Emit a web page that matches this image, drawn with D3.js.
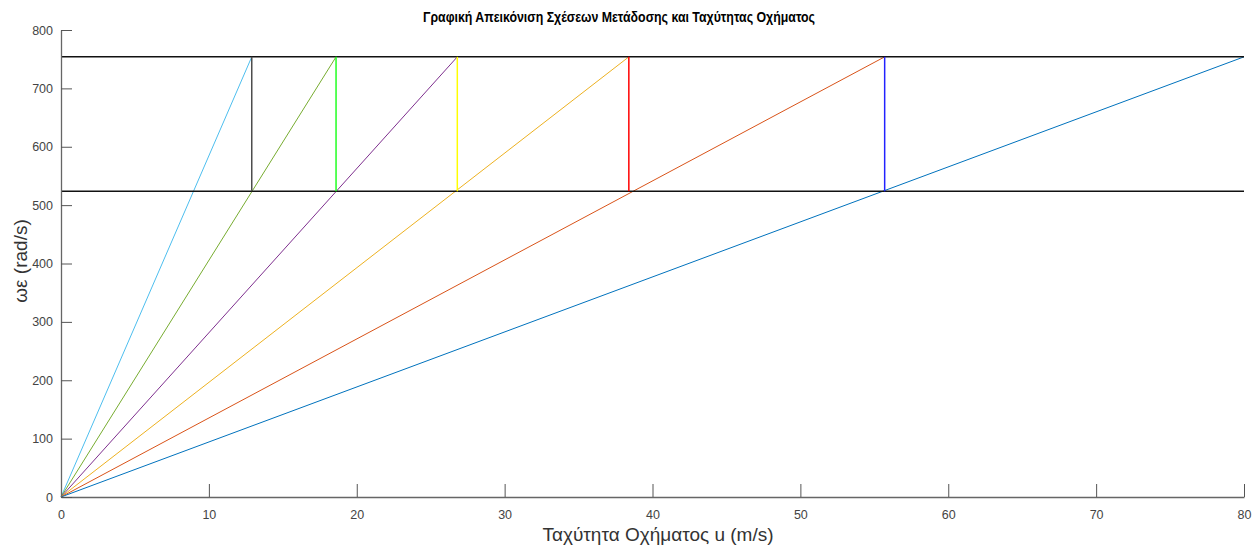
<!DOCTYPE html>
<html>
<head>
<meta charset="utf-8">
<script src="https://cdn.jsdelivr.net/npm/d3@7"></script>
<style>
  body { margin: 0; background: #fff; }
  svg { font-family: "Liberation Sans", Arial, sans-serif; }
</style>
</head>
<body>
<svg id="chart" width="1257" height="554"></svg>
<script>
// gear lines: speed (m/s) at which each gear reaches max engine speed
const gearTopSpeeds = [12.9, 18.6, 26.8, 38.4, 55.7, 80];
const gearColors = ['#4DBEEE', '#77AC30', '#7E2F8E', '#EDB120', '#D95319', '#0072BD'];

// shift points (vertical lines)
const shiftSpeeds = [12.9, 18.6, 26.8, 38.4, 55.7];
const shiftColors = ['#4d4d4d', '#22ff22', '#ffff00', '#ff0000', '#2222ff'];

// engine speed limits (rad/s)
const omegaLimits = [754, 523.6];

const xTicks = [0, 10, 20, 30, 40, 50, 60, 70, 80];
const yTicks = [0, 100, 200, 300, 400, 500, 600, 700, 800];

const margins = { top: 30, right: 13, bottom: 57, left: 61 };
const width = 1257, height = 554;

const svg = d3.select('#chart');

const x = d3.scaleLinear().domain([0, 80]).range([margins.left, width - margins.right]);
const y = d3.scaleLinear().domain([0, 800]).range([height - margins.bottom, margins.top]);

// title
svg.append('text')
    .attr('x', 619).attr('y', 22)
    .attr('text-anchor', 'middle')
    .attr('font-size', 14).attr('font-weight', 'bold')
    .attr('textLength', 392).attr('lengthAdjust', 'spacingAndGlyphs')
    .attr('fill', '#000')
    .text('Γραφική Απεικόνιση Σχέσεων Μετάδοσης και Ταχύτητας Οχήματος');

// slanted gear lines
svg.append('g').selectAll('line')
    .data(gearTopSpeeds)
    .join('line')
    .attr('x1', x(0)).attr('y1', y(0))
    .attr('x2', d => x(d)).attr('y2', y(omegaLimits[0]))
    .attr('stroke', (d, i) => gearColors[i])
    .attr('stroke-width', 1);

// horizontal limit lines
svg.append('g').selectAll('line')
    .data(omegaLimits)
    .join('line')
    .attr('x1', x(0)).attr('x2', x(80))
    .attr('y1', d => y(d)).attr('y2', d => y(d))
    .attr('stroke', '#111')
    .attr('stroke-width', 1.5);

// vertical shift lines
svg.append('g').selectAll('line')
    .data(shiftSpeeds)
    .join('line')
    .attr('x1', d => x(d)).attr('x2', d => x(d))
    .attr('y1', y(omegaLimits[0])).attr('y2', y(omegaLimits[1]))
    .attr('stroke', (d, i) => shiftColors[i])
    .attr('stroke-width', 1.5);

// axes
const xAxis = d3.axisBottom(x).tickValues(xTicks).tickSizeInner(-13).tickSizeOuter(0).tickPadding(13);
const gx = svg.append('g')
    .attr('transform', `translate(0,${y(0)})`)
    .call(xAxis);

const yAxis = d3.axisLeft(y).tickValues(yTicks).tickSizeInner(-11).tickSizeOuter(0).tickPadding(8);
const gy = svg.append('g')
    .attr('transform', `translate(${x(0)},0)`)
    .call(yAxis);

[gx, gy].forEach(g => {
    g.selectAll('path').attr('stroke', '#666').attr('stroke-width', 1.3);
    g.selectAll('line').attr('stroke', '#555');
    g.selectAll('text').attr('fill', '#444').attr('font-size', 12.5)
        .attr('font-family', '"Liberation Sans", Arial, sans-serif');
});

// axis labels
svg.append('text')
    .attr('x', 658).attr('y', 541)
    .attr('text-anchor', 'middle')
    .attr('font-size', 19).attr('fill', '#333')
    .text('Ταχύτητα Οχήματος u (m/s)');

svg.append('text')
    .attr('transform', 'translate(27,261) rotate(-90)')
    .attr('text-anchor', 'middle')
    .attr('font-size', 19).attr('fill', '#333')
    .text('ωε (rad/s)');
</script>
</body>
</html>
